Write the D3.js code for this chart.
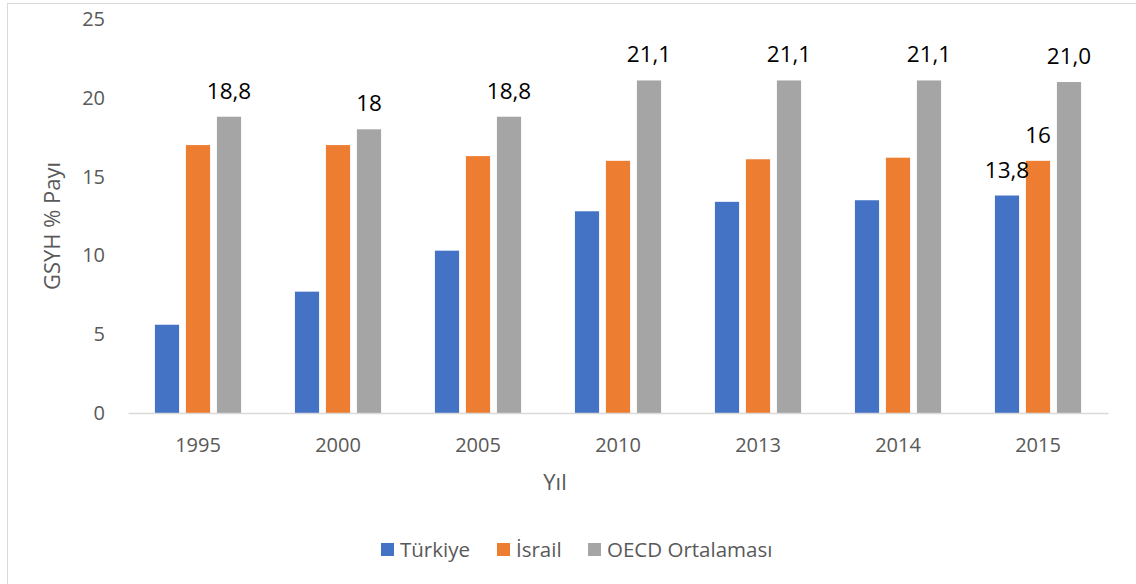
<!DOCTYPE html>
<html>
<head>
<meta charset="utf-8">
<script src="https://cdn.jsdelivr.net/npm/d3@7/dist/d3.min.js"></script>
<style>
  html, body { margin: 0; padding: 0; background: #fff; }
  svg { display: block; }
  text { font-family: "Open Sans", "Noto Sans", sans-serif; }
</style>
</head>
<body>
<svg id="chart" width="1136" height="584"></svg>
<script>
const years = ["1995", "2000", "2005", "2010", "2013", "2014", "2015"];
const seriesNames = ["Türkiye", "İsrail", "OECD Ortalaması"];
const turkiye = [5.6, 7.7, 10.3, 12.8, 13.4, 13.5, 13.8];
const israil = [17.0, 17.0, 16.3, 16.0, 16.1, 16.2, 16.0];
const oecd = [18.8, 18.0, 18.8, 21.1, 21.1, 21.1, 21.0];
const seriesColors = ["#4472C4", "#ED7D31", "#A5A5A5"];
const yTicks = [0, 5, 10, 15, 20, 25];
// data labels: [series index, year index, text]
const dataLabels = [
  [2, 0, "18,8"], [2, 1, "18"], [2, 2, "18,8"], [2, 3, "21,1"],
  [2, 4, "21,1"], [2, 5, "21,1"], [2, 6, "21,0"],
  [0, 6, "13,8"], [1, 6, "16"]
];
const yTitle = "GSYH % Payı";
const xTitle = "Yıl";

const seriesValues = [turkiye, israil, oecd];
const svg = d3.select("#chart");

// frame
svg.append("rect")
  .attr("x", 7.5).attr("y", 3.5)
  .attr("width", 1140).attr("height", 600)
  .attr("fill", "none").attr("stroke", "#D9D9D9").attr("stroke-width", 1);

const x0 = d3.scaleBand().domain(years).range([128, 1108]).padding(0);
const x1 = d3.scaleBand().domain(d3.range(3)).range([-46.5, 46.5])
  .paddingInner(0.22).paddingOuter(0.11);
const y = d3.scaleLinear().domain([0, 25]).range([413, 19]);

// y tick labels
const yAxis = svg.append("g").attr("transform", "translate(105,0)")
  .call(d3.axisLeft(y).tickValues(yTicks).tickSize(0).tickPadding(0).tickFormat(d3.format("d")));
yAxis.select(".domain").remove();
yAxis.selectAll("text")
  .attr("fill", "#595959").style("font-size", "20px")
  .style("font-family", "'Open Sans', sans-serif");

// bars
const groups = svg.append("g").selectAll("g").data(years).join("g")
  .attr("transform", d => `translate(${x0(d) + x0.bandwidth() / 2},0)`);
groups.selectAll("rect")
  .data((d, i) => seriesValues.map((vals, s) => ({ s, v: vals[i] })))
  .join("rect")
  .attr("x", d => x1(d.s))
  .attr("width", x1.bandwidth())
  .attr("y", d => y(d.v))
  .attr("height", d => y(0) - y(d.v))
  .attr("fill", d => seriesColors[d.s]);

// x axis
const xAxis = svg.append("g").attr("transform", "translate(0,413)")
  .call(d3.axisBottom(x0).tickSize(0).tickPadding(25));
xAxis.select(".domain").attr("stroke", "#D9D9D9").attr("stroke-width", 1.5);
xAxis.selectAll("text")
  .attr("fill", "#595959").style("font-size", "20px")
  .style("font-family", "'Open Sans', sans-serif");

// data labels
svg.append("g").selectAll("text").data(dataLabels).join("text")
  .attr("x", d => x0(years[d[1]]) + x0.bandwidth() / 2 + x1(d[0]) + x1.bandwidth() / 2)
  .attr("y", d => y(seriesValues[d[0]][d[1]]) - 18)
  .attr("text-anchor", "middle")
  .attr("fill", "#000")
  .style("font-size", "22.5px")
  .text(d => d[2]);

// axis titles
svg.append("text")
  .attr("transform", "translate(60,226) rotate(-90)")
  .attr("text-anchor", "middle")
  .attr("fill", "#595959")
  .style("font-size", "22px")
  .text(yTitle);
svg.append("text")
  .attr("x", 555).attr("y", 490)
  .attr("text-anchor", "middle")
  .attr("fill", "#595959")
  .style("font-size", "22px")
  .text(xTitle);

// legend
const legendX = [381, 497, 588];
const legend = svg.append("g").selectAll("g").data(seriesNames).join("g")
  .attr("transform", (d, i) => `translate(${legendX[i]},543)`);
legend.append("rect").attr("width", 13).attr("height", 13)
  .attr("fill", (d, i) => seriesColors[i]);
legend.append("text").attr("x", 19).attr("y", 13.5)
  .attr("fill", "#595959").style("font-size", "20.5px")
  .text(d => d);
</script>
</body>
</html>
